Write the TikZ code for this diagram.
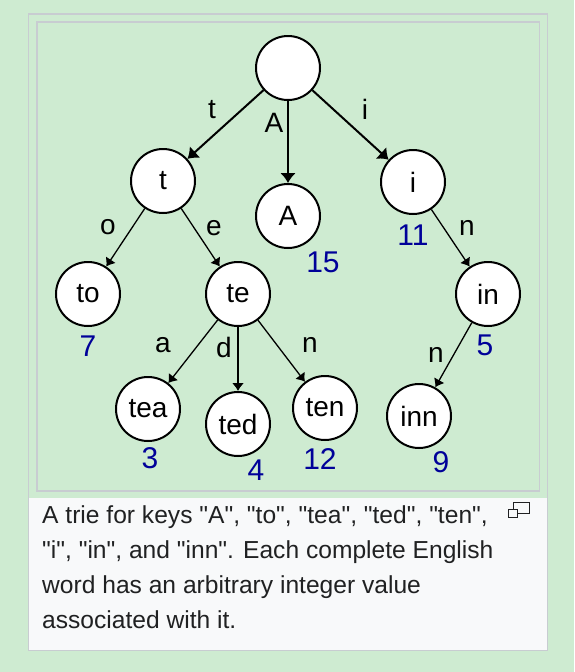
\documentclass[tikz,border=0pt]{standalone}
\usepackage{fontspec}
\setmainfont{Liberation Sans}[Ligatures=TeXOff]
\usetikzlibrary{arrows.meta}
\definecolor{pagegreen}{RGB}{206,235,209}
\definecolor{framegray}{RGB}{200,204,209}
\definecolor{captionbg}{RGB}{248,249,250}
\definecolor{captiontext}{RGB}{32,33,34}
\definecolor{valueblue}{RGB}{0,0,153}
\tikzset{
  trienode/.style={circle, draw, fill=white, line width=2pt, minimum size=64pt, inner sep=0pt, font=\fontsize{28}{30}\selectfont},
  edgelabel/.style={inner sep=0pt, font=\fontsize{28}{30}\selectfont},
  valuelabel/.style={inner sep=0pt, text=valueblue, font=\fontsize{30}{32}\selectfont},
  bigedge/.style={line width=2pt, -{Latex[length=10pt,width=16pt]}},
  smalledge/.style={line width=1.3pt, -{Latex[length=8pt,width=12pt]}},
}
\begin{document}
\begin{tikzpicture}[x=1pt,y=-1pt]
  % Draw page background and frames
  \fill[pagegreen] (0,0) rectangle (574,672);
  \draw[framegray, line width=1.5pt, fill=pagegreen] (28.5,14) rectangle (547.5,650.5);
  \fill[captionbg] (29.25,498) rectangle (546.75,649.75);
  \draw[framegray, line width=1.5pt] (36.75,22) rectangle (539.5,491);

  % Draw the trie nodes
  \node[trienode] (root) at (288,68) {};
  \node[trienode] (t) at (163,181) {t};
  \node[trienode] (A) at (288,216) {A};
  \node[trienode] (i) at (413,182) {i};
  \node[trienode] (to) at (88,294) {to};
  \node[trienode] (te) at (238,294) {te};
  \node[trienode] (in) at (488,294) {in};
  \node[trienode] (tea) at (148,409) {tea};
  \node[trienode] (ted) at (238,424) {ted};
  \node[trienode] (ten) at (325,408) {ten};
  \node[trienode] (inn) at (419,416) {inn};

  % Draw the edges
  \draw[bigedge] (root) -- (t);
  \draw[bigedge] (root) -- (A);
  \draw[bigedge] (root) -- (i);
  \draw[smalledge] (t) -- (to);
  \draw[smalledge] (t) -- (te);
  \draw[smalledge] (i) -- (in);
  \draw[smalledge] (te) -- (tea);
  \draw[smalledge] (te) -- (ted);
  \draw[smalledge] (te) -- (ten);
  \draw[smalledge] (in) -- (inn);

  % Edge letters
  \node[edgelabel] (lt) at (212,110) {t};
  \node[edgelabel] (lA) at (274,123) {A};
  \node[edgelabel] (li) at (365,109) {i};
  \node[edgelabel] (lo) at (108,227) {o};
  \node[edgelabel] (le) at (214,228) {e};
  \node[edgelabel] (ln) at (467,228) {n};
  \node[edgelabel] (la) at (163,345) {a};
  \node[edgelabel] (ld) at (224,347) {d};
  \node[edgelabel] (lnt) at (310,345) {n};
  \node[edgelabel] (lni) at (436,355) {n};

  % Values of complete words
  \node[valuelabel] (vA) at (323,262) {15};
  \node[valuelabel] (vi) at (413,235) {11};
  \node[valuelabel] (vto) at (88,346) {7};
  \node[valuelabel] (vin) at (485,345) {5};
  \node[valuelabel] (vtea) at (150,458) {3};
  \node[valuelabel] (vted) at (256,470) {4};
  \node[valuelabel] (vten) at (320,459) {12};
  \node[valuelabel] (vinn) at (441,462) {9};

  % Caption and enlarge icon
  \node[anchor=north west, inner sep=0pt, align=left, text=captiontext, font=\fontsize{24.6}{35}\selectfont] (caption) at (42,505) {A trie for keys "A", "to", "tea", "ted", "ten",\\ "i", "in", and "inn". Each complete English\\ word has an arbitrary integer value\\ associated with it.};
  \draw[captiontext, line width=1pt] (513,502) rectangle (529,513);
  \draw[captiontext, line width=1pt, fill=captionbg] (508,509) rectangle (517,517);
\end{tikzpicture}
\end{document}
